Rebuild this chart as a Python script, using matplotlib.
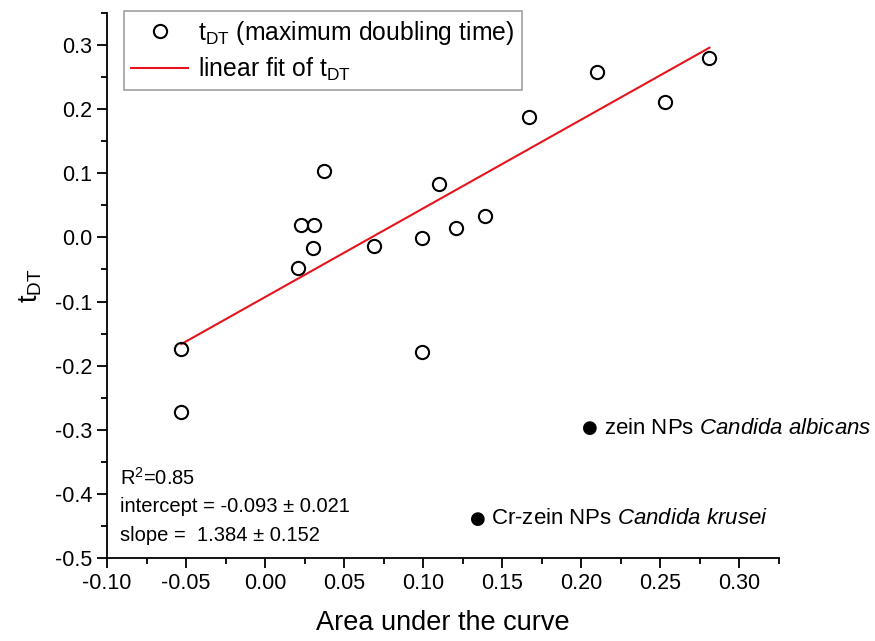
import numpy as np
import matplotlib
matplotlib.use("Agg")
import matplotlib.pyplot as plt
from matplotlib.ticker import MultipleLocator, FormatStrFormatter

plt.rcParams['font.family'] = ['Liberation Sans', 'DejaVu Sans']
plt.rcParams['mathtext.fontset'] = 'custom'
plt.rcParams['mathtext.rm'] = 'Liberation Sans'
plt.rcParams['mathtext.it'] = 'Liberation Sans:italic'

# data
auc = [-0.053, -0.053, 0.021, 0.023, 0.031, 0.030, 0.037, 0.069, 0.099,
       0.099, 0.110, 0.121, 0.139, 0.167, 0.210, 0.253, 0.281]
t_dt = [-0.174, -0.272, -0.048, 0.019, 0.019, -0.016, 0.103, -0.014, -0.001,
        -0.178, 0.083, 0.014, 0.033, 0.188, 0.258, 0.211, 0.280]

fit_intercept = -0.093
fit_slope = 1.384
fit_text = ["R$^2$=0.85", "intercept = -0.093 \u00b1 0.021", "slope =  1.384 \u00b1 0.152"]

fig = plt.figure(figsize=(8.75, 6.41), dpi=100)
ax = fig.add_axes([0.1223, 0.1295, 0.768, 0.8502])

x_fit = np.array([min(auc), max(auc)])
ax.plot(auc, t_dt, 'o', mfc='none', mec='black', ms=9.5, mew=1.5,
        label='t$_{\\mathrm{DT}}$ (maximum doubling time)', zorder=3)
ax.plot(x_fit, fit_intercept + fit_slope * x_fit, color='#e8141c', lw=1.5,
        label='linear fit of t$_{\\mathrm{DT}}$')

ax.set_xlim(-0.1, 0.325)
ax.set_ylim(-0.5, 0.35)
ax.xaxis.set_major_locator(MultipleLocator(0.05))
ax.xaxis.set_minor_locator(MultipleLocator(0.025))
ax.yaxis.set_major_locator(MultipleLocator(0.1))
ax.yaxis.set_minor_locator(MultipleLocator(0.05))
ax.xaxis.set_major_formatter(FormatStrFormatter('%.2f'))
ax.yaxis.set_major_formatter(FormatStrFormatter('%.1f'))
ax.tick_params(which='major', direction='out', length=7, width=1.3, labelsize=15.5)
ax.tick_params(which='minor', direction='out', length=4.5, width=1.3)
for s in ['top', 'right']:
    ax.spines[s].set_visible(False)
for s in ['left', 'bottom']:
    ax.spines[s].set_linewidth(1.3)

ax.set_xlabel('Area under the curve', fontsize=19.5, labelpad=12)
ax.set_ylabel('t$_{\\mathrm{DT}}$', fontsize=19.5, labelpad=8)

leg = ax.legend(loc='upper left', bbox_to_anchor=(0.025, 1.003), fontsize=17.8,
                frameon=True, fancybox=False, edgecolor='#888888',
                borderpad=0.3, handlelength=2.3, handletextpad=0.4,
                labelspacing=0.35, borderaxespad=0)
leg.get_frame().set_linewidth(1.2)

for i, t in enumerate(fit_text):
    ax.text(0.02, 0.147 - i * 0.0525, t, transform=ax.transAxes, fontsize=14.5,
            va='center', ha='left')

notes = [('zein NPs $\\it{Candida\\ albicans}$', 0.719, 0.2385),
         ('Cr-zein NPs $\\it{Candida\\ krusei}$', 0.552, 0.072)]
for label, nx, ny in notes:
    ax.text(nx, ny, '\u25cf', transform=ax.transAxes, fontsize=13,
            family='DejaVu Sans', va='center', ha='center', clip_on=False)
    ax.text(nx + 0.02, ny, label, transform=ax.transAxes, fontsize=16,
            va='center', ha='left', clip_on=False)

fig.savefig('out.png', dpi=100)
